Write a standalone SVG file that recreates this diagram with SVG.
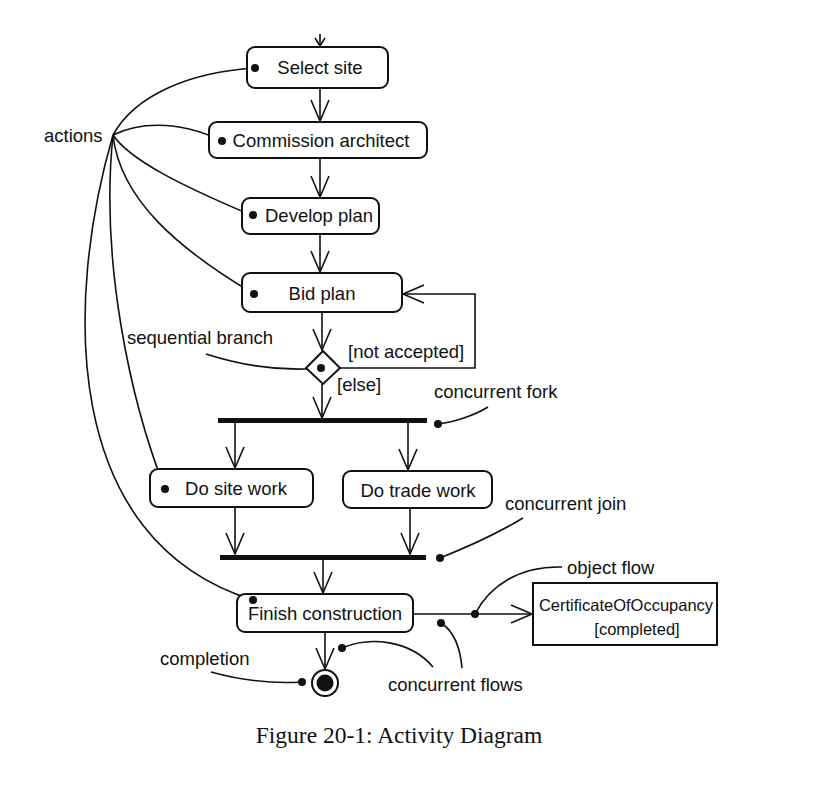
<svg xmlns="http://www.w3.org/2000/svg" width="822" height="800" viewBox="0 0 822 800">
<defs>
<style>
.box{fill:#fff;stroke:#111;stroke-width:2}
.lbl{font-family:"Liberation Sans",Arial,sans-serif;font-size:18.5px;fill:#111}
.sm{font-size:16.5px}
.ln{fill:none;stroke:#111;stroke-width:1.6}
.bar{fill:#111}
.dot{fill:#111}
</style>
<marker id="v" markerUnits="userSpaceOnUse" markerWidth="30" markerHeight="30" refX="0" refY="0" orient="auto" viewBox="-25 -15 30 30" overflow="visible">
<path d="M-21,-9 L0,0 L-21,9" fill="none" stroke="#111" stroke-width="1.6"/>
</marker>
</defs>
<rect width="822" height="800" fill="#fff"/>

<g id="connectors">
<path class="ln" d="M320,34 L320,46"/>
<path class="ln" d="M315,38 L320,46 L325,38"/>
<path class="ln" d="M320,88 L320,121" marker-end="url(#v)"/>
<path class="ln" d="M320,158 L320,197" marker-end="url(#v)"/>
<path class="ln" d="M320,234 L320,272" marker-end="url(#v)"/>
<path class="ln" d="M322,312 L322,350" marker-end="url(#v)"/>
<path class="ln" d="M340,368 L475,368 L475,294 L403,294" marker-end="url(#v)"/>
<path class="ln" d="M322,384 L322,418" marker-end="url(#v)"/>
<path class="ln" d="M235,423 L235,468" marker-end="url(#v)"/>
<path class="ln" d="M408,423 L408,470" marker-end="url(#v)"/>
<path class="ln" d="M235,507 L235,554" marker-end="url(#v)"/>
<path class="ln" d="M410,508 L410,554" marker-end="url(#v)"/>
<path class="ln" d="M323,560 L323,593" marker-end="url(#v)"/>
<path class="ln" d="M325,632 L325,669" marker-end="url(#v)"/>
<path class="ln" d="M413,614 L532,614" marker-end="url(#v)"/>
</g>

<g id="notes">
<path class="ln" d="M113,135 C135,95 190,72 255,68"/>
<path class="ln" d="M113,135 C135,124 175,118 222,141"/>
<path class="ln" d="M113,135 C130,160 180,185 251,215"/>
<path class="ln" d="M113,135 C120,200 180,250 254,294"/>
<path class="ln" d="M113,135 C100,260 130,400 165,489"/>
<path class="ln" d="M113,135 C65,300 60,540 253,600"/>
<path class="ln" d="M206,354 C240,365 270,370 306,369"/>
<path class="ln" d="M438,424 C455,422 475,415 488,407"/>
<path class="ln" d="M440,558 C465,548 500,532 523,518"/>
<path class="ln" d="M475,614 C490,585 520,566 562,567"/>
<path class="ln" d="M211,672 C240,680 270,684 302,682"/>
<path class="ln" d="M342,648 C370,636 410,640 433,667"/>
<path class="ln" d="M441,623 C452,630 460,645 462,668"/>
<circle class="dot" cx="438" cy="424" r="4"/>
<circle class="dot" cx="440" cy="558" r="4"/>
<circle class="dot" cx="475" cy="614" r="4"/>
<circle class="dot" cx="302" cy="682" r="4"/>
<circle class="dot" cx="342" cy="648" r="4"/>
<circle class="dot" cx="441" cy="623" r="4"/>
<text class="lbl" x="44" y="142">actions</text>
<text class="lbl" x="127" y="344">sequential branch</text>
<text class="lbl" x="348" y="358">[not accepted]</text>
<text class="lbl" x="337" y="391">[else]</text>
<text class="lbl" x="434" y="398">concurrent fork</text>
<text class="lbl" x="505" y="510">concurrent join</text>
<text class="lbl" x="567" y="574">object flow</text>
<text class="lbl" x="160" y="665">completion</text>
<text class="lbl" x="388" y="691">concurrent flows</text>
</g>

<g id="select-site"><rect class="box" x="247" y="47" width="141" height="41" rx="8"/><text class="lbl" x="320" y="74" text-anchor="middle">Select site</text><circle class="dot" cx="255" cy="68" r="4"/></g>
<g id="commission-architect"><rect class="box" x="209" y="122" width="218" height="36" rx="8"/><text class="lbl" x="321" y="147" text-anchor="middle">Commission architect</text><circle class="dot" cx="222" cy="141" r="4"/></g>
<g id="develop-plan"><rect class="box" x="242" y="198" width="137" height="36" rx="8"/><text class="lbl" x="319" y="222" text-anchor="middle">Develop plan</text><circle class="dot" cx="253" cy="215" r="4"/></g>
<g id="bid-plan"><rect class="box" x="242" y="273" width="160" height="39" rx="8"/><text class="lbl" x="322" y="300" text-anchor="middle">Bid plan</text><circle class="dot" cx="254" cy="294" r="4"/></g>
<g id="branch"><path class="box" d="M323,351 L340,368 L323,384 L306,368 Z"/><circle class="dot" cx="321" cy="368" r="4"/></g>
<g id="fork"><rect class="bar" x="218" y="418" width="209" height="5"/></g>
<g id="do-site-work"><rect class="box" x="150" y="469" width="163" height="38" rx="8"/><text class="lbl" x="236" y="495" text-anchor="middle">Do site work</text><circle class="dot" cx="165" cy="489" r="4"/></g>
<g id="do-trade-work"><rect class="box" x="343" y="471" width="149" height="37" rx="8"/><text class="lbl" x="418" y="497" text-anchor="middle">Do trade work</text></g>
<g id="join"><rect class="bar" x="220" y="555" width="206" height="5"/></g>
<g id="finish-construction"><rect class="box" x="237" y="594" width="176" height="38" rx="8"/><text class="lbl" x="325" y="620" text-anchor="middle">Finish construction</text><circle class="dot" cx="253" cy="600" r="4"/></g>
<g id="certificate"><rect class="box" x="533" y="583" width="184" height="62"/><text class="lbl sm" x="626" y="611" text-anchor="middle">CertificateOfOccupancy</text><text class="lbl sm" x="637" y="635" text-anchor="middle">[completed]</text></g>
<g id="final"><circle cx="325" cy="683" r="13" fill="#fff" stroke="#111" stroke-width="2"/><circle class="dot" cx="325" cy="683" r="8.5"/></g>

<text x="399" y="743" text-anchor="middle" font-family="'Liberation Serif','Times New Roman',serif" font-size="23.5" fill="#111">Figure 20-1: Activity Diagram</text>
</svg>
